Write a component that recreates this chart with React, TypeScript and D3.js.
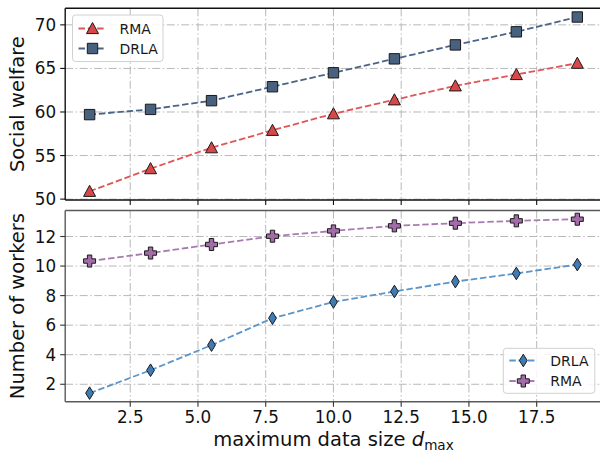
import React from "react";
import * as d3 from "d3";

const xValues = [1, 3.25, 5.5, 7.75, 10, 12.25, 14.5, 16.75, 19];
const welfareRMA = [50.9, 53.5, 55.9, 57.9, 59.8, 61.4, 63.0, 64.3, 65.6];
const welfareDRLA = [59.7, 60.3, 61.3, 62.9, 64.5, 66.1, 67.7, 69.2, 70.9];
const workersDRLA = [1.4, 2.95, 4.65, 6.47, 7.57, 8.28, 8.95, 9.5, 10.1];
const workersRMA = [10.34, 10.88, 11.46, 12.02, 12.38, 12.72, 12.9, 13.06, 13.17];
const xTicks = [2.5, 5.0, 7.5, 10.0, 12.5, 15.0, 17.5];
const topYTicks = [50, 55, 60, 65, 70];
const botYTicks = [2, 4, 6, 8, 10, 12];

const W = 600;
const H = 453;
const L = 65.2;
const R = 601.7;
const top1 = 8.3, bot1 = 200;
const top2 = 210.5, bot2 = 401.7;

const FONT = "DejaVu Sans, sans-serif";
const GRID = "#b8b8b8";
const GRID_DASH = "8,2.5,1.5,2.5";

type MarkerKind = "tri" | "sq" | "dia" | "plus";

function markerPath(kind: MarkerKind): string {
  if (kind === "tri") {
    const r = 6;
    return `M0,${-r}L${r},${r * 0.85}L${-r},${r * 0.85}Z`;
  }
  if (kind === "sq") {
    const r = 5.2;
    return `M${-r},${-r}H${r}V${r}H${-r}Z`;
  }
  if (kind === "dia") {
    const h = 6.3, w = 3.9;
    return `M0,${-h}L${w},0L0,${h}L${-w},0Z`;
  }
  const a = 6, b = 2.2;
  return `M${-b},${-a}H${b}V${-b}H${a}V${b}H${b}V${a}H${-b}V${b}H${-a}V${-b}H${-b}Z`;
}

function Marker({ x, y, kind, fill }: { x: number; y: number; kind: MarkerKind; fill: string }) {
  return (
    <path
      d={markerPath(kind)}
      transform={`translate(${x},${y})`}
      fill={fill}
      stroke="#1a1a1a"
      strokeWidth={1}
      strokeLinejoin="miter"
    />
  );
}

function Series({
  xs, ys, x, y, kind, fill, line,
}: {
  xs: number[]; ys: number[]; x: d3.ScaleLinear<number, number>; y: d3.ScaleLinear<number, number>;
  kind: MarkerKind; fill: string; line: string;
}) {
  const gen = d3.line<number>().x((_, i) => x(xs[i])).y((d) => y(d));
  return (
    <g>
      <path d={gen(ys) || ""} fill="none" stroke={line} strokeWidth={1.8} strokeDasharray="6.5,2.8" />
      {ys.map((v, i) => (
        <Marker key={i} x={x(xs[i])} y={y(v)} kind={kind} fill={fill} />
      ))}
    </g>
  );
}

function LegendBox({
  x0, y0, w, h, items,
}: {
  x0: number; y0: number; w: number; h: number;
  items: { label: string; kind: MarkerKind; fill: string; line: string; y: number }[];
}) {
  return (
    <g>
      <rect x={x0} y={y0} width={w} height={h} rx={3} fill="white" fillOpacity={0.85} stroke="#d0d0d0" strokeWidth={1} />
      {items.map((it) => (
        <g key={it.label}>
          <line x1={x0 + 6} x2={x0 + 33} y1={it.y} y2={it.y} stroke={it.line} strokeWidth={1.8} strokeDasharray="6.5,2.8" />
          <Marker x={x0 + 20} y={it.y} kind={it.kind} fill={it.fill} />
          <text x={x0 + 47} y={it.y + 5} fontFamily={FONT} fontSize={14} fill="#1a1a1a">{it.label}</text>
        </g>
      ))}
    </g>
  );
}

export default function App() {
  const x = d3.scaleLinear().domain([0.1, 19.9]).range([L, R]);
  const y1 = d3.scaleLinear().domain([49.9, 71.9]).range([bot1, top1]);
  const y2 = d3.scaleLinear().domain([0.82, 13.76]).range([bot2, top2]);

  return (
    <svg width={W} height={H} style={{ position: "absolute", left: 0, top: 0, background: "white" }}>
      <rect x={0} y={0} width={W} height={H} fill="white" />
      <defs>
        <clipPath id="c1"><rect x={L} y={top1} width={R - L} height={bot1 - top1} /></clipPath>
        <clipPath id="c2"><rect x={L} y={top2} width={R - L} height={bot2 - top2} /></clipPath>
      </defs>

      {/* top panel grid */}
      <g clipPath="url(#c1)">
        {xTicks.map((t) => (
          <line key={t} x1={x(t)} x2={x(t)} y1={top1} y2={bot1} stroke={GRID} strokeWidth={1} strokeDasharray={GRID_DASH} />
        ))}
        {topYTicks.map((t) => (
          <line key={t} x1={L} x2={R} y1={y1(t)} y2={y1(t)} stroke={GRID} strokeWidth={1} strokeDasharray={GRID_DASH} />
        ))}
      </g>
      {/* bottom panel grid */}
      <g clipPath="url(#c2)">
        {xTicks.map((t) => (
          <line key={t} x1={x(t)} x2={x(t)} y1={top2} y2={bot2} stroke={GRID} strokeWidth={1} strokeDasharray={GRID_DASH} />
        ))}
        {botYTicks.map((t) => (
          <line key={t} x1={L} x2={R} y1={y2(t)} y2={y2(t)} stroke={GRID} strokeWidth={1} strokeDasharray={GRID_DASH} />
        ))}
      </g>

      {/* series */}
      <Series xs={xValues} ys={welfareRMA} x={x} y={y1} kind="tri" fill="#d84848" line="#e05555" />
      <Series xs={xValues} ys={welfareDRLA} x={x} y={y1} kind="sq" fill="#48617f" line="#4b6485" />
      <Series xs={xValues} ys={workersRMA} x={x} y={y2} kind="plus" fill="#a26ca9" line="#a77bb0" />
      <Series xs={xValues} ys={workersDRLA} x={x} y={y2} kind="dia" fill="#3f7cb6" line="#5c95c9" />

      {/* top spines */}
      <g fill="none" stroke="#111" strokeWidth={1.4}>
        <line x1={L} x2={R + 5} y1={top1} y2={top1} />
        <line x1={L} x2={R + 5} y1={bot1} y2={bot1} />
        <line x1={L} x2={L} y1={top1} y2={bot1} />
      </g>
      {/* bottom spines */}
      <g fill="none" stroke="#5a5a5a" strokeWidth={1.4}>
        <line x1={L} x2={R + 5} y1={top2} y2={top2} />
        <line x1={L} x2={R + 5} y1={bot2} y2={bot2} />
        <line x1={L} x2={L} y1={top2} y2={bot2} />
      </g>

      {/* top ticks */}
      {topYTicks.map((t) => (
        <g key={t}>
          <line x1={L - 5} x2={L} y1={y1(t)} y2={y1(t)} stroke="#111" strokeWidth={1.1} />
          <text x={L - 9} y={y1(t)} dy="0.36em" textAnchor="end" fontFamily={FONT} fontSize={16.8} fill="#111">{t}</text>
        </g>
      ))}
      {xTicks.map((t) => (
        <line key={t} x1={x(t)} x2={x(t)} y1={bot1} y2={bot1 + 5} stroke="#111" strokeWidth={1.1} />
      ))}

      {/* bottom ticks */}
      {botYTicks.map((t) => (
        <g key={t}>
          <line x1={L - 5} x2={L} y1={y2(t)} y2={y2(t)} stroke="#333" strokeWidth={1.1} />
          <text x={L - 9} y={y2(t)} dy="0.36em" textAnchor="end" fontFamily={FONT} fontSize={16.8} fill="#111">{t}</text>
        </g>
      ))}
      {xTicks.map((t) => (
        <g key={t}>
          <line x1={x(t)} x2={x(t)} y1={bot2} y2={bot2 + 5} stroke="#333" strokeWidth={1.1} />
          <text x={x(t)} y={bot2 + 21.5} textAnchor="middle" fontFamily={FONT} fontSize={16.8} fill="#111">{t.toFixed(1)}</text>
        </g>
      ))}

      {/* axis labels */}
      <text transform={`translate(24,${(top1 + bot1) / 2}) rotate(-90)`} textAnchor="middle" fontFamily={FONT} fontSize={19.5} fill="#111">Social welfare</text>
      <text transform={`translate(24,${(top2 + bot2) / 2}) rotate(-90)`} textAnchor="middle" fontFamily={FONT} fontSize={19.5} fill="#111">Number of workers</text>
      <text x={(L + R) / 2} y={446} textAnchor="middle" fontFamily={FONT} fontSize={19.5} fill="#111">
        maximum data size <tspan fontStyle="italic">d</tspan><tspan fontSize={13.6} dy={4}>max</tspan>
      </text>

      {/* legends */}
      <LegendBox
        x0={72.5} y0={15} w={90.5} h={46.5}
        items={[
          { label: "RMA", kind: "tri", fill: "#d84848", line: "#e05555", y: 28.5 },
          { label: "DRLA", kind: "sq", fill: "#48617f", line: "#4b6485", y: 48.5 },
        ]}
      />
      <LegendBox
        x0={503.3} y0={348.3} w={91.5} h={45}
        items={[
          { label: "DRLA", kind: "dia", fill: "#3f7cb6", line: "#5c95c9", y: 360.5 },
          { label: "RMA", kind: "plus", fill: "#a26ca9", line: "#a77bb0", y: 381 },
        ]}
      />
    </svg>
  );
}
